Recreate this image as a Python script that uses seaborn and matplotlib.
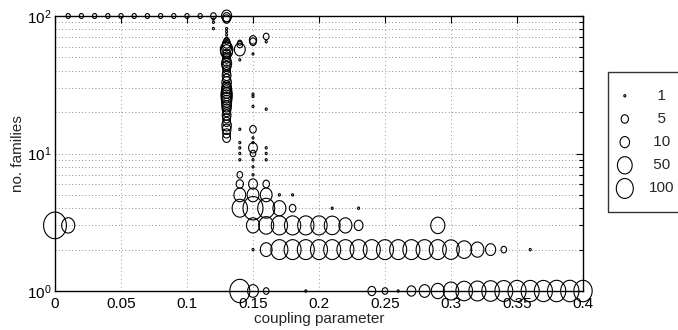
import numpy as np
import pandas as pd
import matplotlib
matplotlib.use("Agg")
import matplotlib.pyplot as plt
from matplotlib.path import Path
from matplotlib.ticker import FixedLocator, FixedFormatter, NullFormatter
import seaborn as sns

sns.set_style("white")
plt.rcParams["font.family"] = ["Liberation Sans", "DejaVu Sans"]
plt.rcParams["mathtext.fontset"] = "custom"
plt.rcParams["mathtext.rm"] = "Liberation Sans"
plt.rcParams["mathtext.it"] = "Liberation Sans:italic"
plt.rcParams["mathtext.bf"] = "Liberation Sans:bold"
plt.rcParams["mathtext.default"] = "rm"

# One bubble per (coupling value, number of families) outcome;
# runs = how many runs ended with that number of families.
coupling = (
    [0.00]
    + [0.01, 0.01]
    + [0.02, 0.03, 0.04, 0.05, 0.06, 0.07, 0.08, 0.09, 0.10, 0.11]
    + [0.12] * 4
    + [0.13] * 43
    + [0.14] * 14
    + [0.15] * 20
    + [0.16] * 12
    + [0.17] * 4
    + [0.18] * 4
    + [0.19] * 3
    + [0.20] * 2
    + [0.21] * 3
    + [0.22] * 2
    + [0.23] * 3
    + [0.24] * 2
    + [0.25] * 2
    + [0.26] * 2
    + [0.27] * 2
    + [0.28] * 2
    + [0.29] * 3
    + [0.30] * 2
    + [0.31] * 2
    + [0.32] * 2
    + [0.33] * 2
    + [0.34] * 2
    + [0.35]
    + [0.36] * 2
    + [0.37, 0.38, 0.39, 0.40]
)

families = (
    [3]
    + [100, 3]
    + [100] * 10
    + [100, 95, 90, 81]
    + [100, 98, 95, 81, 77, 73, 69, 66, 63, 61, 59, 57, 55, 53, 51, 49, 47, 45,
       43, 41, 39, 37, 35, 33, 31, 30, 29, 28, 27, 26, 25, 24, 23, 22, 21, 20,
       19, 18, 17, 16, 15, 14, 13]
    + [64, 62, 57, 48, 15, 12, 11, 10, 9, 7, 6, 5, 4, 1]
    + [67, 65, 53, 27, 26, 22, 15, 13, 12, 11, 10, 9, 8, 7, 6, 5, 4, 3, 2, 1]
    + [71, 65, 21, 11, 10, 9, 6, 5, 4, 3, 2, 1]
    + [5, 4, 3, 2]
    + [5, 4, 3, 2]
    + [3, 2, 1]
    + [3, 2]
    + [4, 3, 2]
    + [3, 2]
    + [4, 3, 2]
    + [2, 1]
    + [2, 1]
    + [2, 1]
    + [2, 1]
    + [2, 1]
    + [3, 2, 1]
    + [2, 1]
    + [2, 1]
    + [2, 1]
    + [2, 1]
    + [2, 1]
    + [1]
    + [2, 1]
    + [1, 1, 1, 1]
)

runs = (
    [600]
    + [2, 30]
    + [2] * 10
    + [3, 1, 1, 1]
    + [12, 6, 5, 1, 1, 1, 1, 3, 6, 8, 12, 25, 20, 6, 5, 6, 8, 12,
       8, 5, 6, 8, 6, 10, 8, 10, 12, 14, 16, 16, 14, 12, 10, 10, 8, 6,
       8, 6, 6, 10, 8, 6, 6]
    + [2, 3, 15, 1, 1, 1, 1, 1, 1, 3, 5, 20, 60, 250]
    + [5, 4, 1, 1, 1, 1, 4, 1, 1, 8, 3, 1, 1, 1, 8, 20, 250, 29, 1, 15]
    + [3, 1, 1, 1, 1, 1, 4, 20, 100, 54, 20, 3]
    + [1, 29, 80, 100]
    + [1, 4, 80, 100]
    + [80, 100, 1]
    + [80, 100]
    + [1, 70, 100]
    + [29, 100]
    + [1, 8, 100]
    + [100, 6]
    + [100, 3]
    + [100, 1]
    + [100, 8]
    + [100, 15]
    + [40, 100, 30]
    + [90, 60]
    + [54, 90]
    + [29, 100]
    + [12, 120]
    + [3, 130]
    + [140]
    + [1, 140]
    + [140, 150, 150, 150]
)

legend_runs = [1, 5, 10, 50, 100]
legend_labels = ["  1", "  5", " 10", " 50", "100"]

xticks = [0, 0.05, 0.1, 0.15, 0.2, 0.25, 0.3, 0.35, 0.4]
xticklabels = ["0", "0.05", "0.1", "0.15", "0.2", "0.25", "0.3", "0.35", "0.4"]
yticks = [1, 10, 100]
yticklabels = ["$10^{0}$", "$10^{1}$", "$10^{2}$"]

DPI = 100
ASPECT = 1.17  # bubbles are drawn slightly taller than wide
FS = 11


def bubble_area(n):
    """Marker area (pt^2) for a bubble representing n runs."""
    width_px = 2.0 + 7.5 * np.log10(np.asarray(n, dtype=float))
    height_pt = width_px * ASPECT * 72.0 / DPI
    return height_pt ** 2


theta = np.linspace(0, 2 * np.pi, 73)
ellipse = Path(np.column_stack([np.cos(theta), ASPECT * np.sin(theta)]), closed=True)

df = pd.DataFrame({"coupling": coupling, "families": families, "runs": runs})
df["area"] = bubble_area(df["runs"])
amin, amax = df["area"].min(), df["area"].max()

W, H = 678, 330
fig = plt.figure(figsize=(W / DPI, H / DPI), dpi=DPI)
ax = fig.add_axes([55 / W, 1 - 291 / H, 528 / W, 275 / H])
ax.set_yscale("log")

sns.scatterplot(
    data=df, x="coupling", y="families", size="area",
    sizes=(amin, amax), size_norm=(amin, amax),
    marker=ellipse, facecolor="none", edgecolor="black", linewidth=0.8,
    legend=False, clip_on=False, zorder=3, ax=ax,
)

ax.set_xlim(0, 0.4)
ax.set_ylim(1, 100)
ax.xaxis.set_major_locator(FixedLocator(xticks))
ax.xaxis.set_major_formatter(FixedFormatter(xticklabels))
ax.yaxis.set_major_locator(FixedLocator(yticks))
ax.yaxis.set_major_formatter(FixedFormatter(yticklabels))
ax.yaxis.set_minor_locator(FixedLocator([k * d for d in (1, 10) for k in range(2, 10)]))
ax.yaxis.set_minor_formatter(NullFormatter())

ax.grid(True, axis="x", which="major", color="#9a9a9a", linestyle=(0, (1, 3)), linewidth=0.7)
ax.grid(True, axis="y", which="both", color="#666666", linestyle=(0, (1, 3)), linewidth=0.6)
ax.set_axisbelow(True)

ax.tick_params(which="both", direction="in", top=True, right=True,
               labelsize=FS, colors="black", width=0.8)
ax.tick_params(which="major", length=5)
ax.tick_params(axis="x", which="major", pad=4)
ax.tick_params(axis="y", which="major", pad=2.5)
ax.tick_params(which="minor", length=3)
for s in ax.spines.values():
    s.set_color("black")
    s.set_linewidth(1.0)

ax.set_xlabel("coupling parameter", fontsize=FS)
ax.set_ylabel("no. families", fontsize=FS)
ax.xaxis.set_label_coords(0.5, -0.075)
ax.yaxis.set_label_coords(-0.057, 0.5)

handles = [
    ax.scatter([], [], s=bubble_area(n), marker=ellipse, facecolor="none",
               edgecolor="black", linewidth=0.8)
    for n in legend_runs
]
leg = fig.legend(
    handles, legend_labels, loc="upper left",
    bbox_to_anchor=(608 / W, 1 - 72 / H), bbox_transform=fig.transFigure,
    fontsize=FS, frameon=True, fancybox=False, borderaxespad=0,
    borderpad=1.1, handlelength=0.0, handletextpad=1.6, labelspacing=0.6,
)
leg.get_frame().set_edgecolor("black")
leg.get_frame().set_linewidth(1.0)

fig.savefig("out.png", dpi=DPI)
